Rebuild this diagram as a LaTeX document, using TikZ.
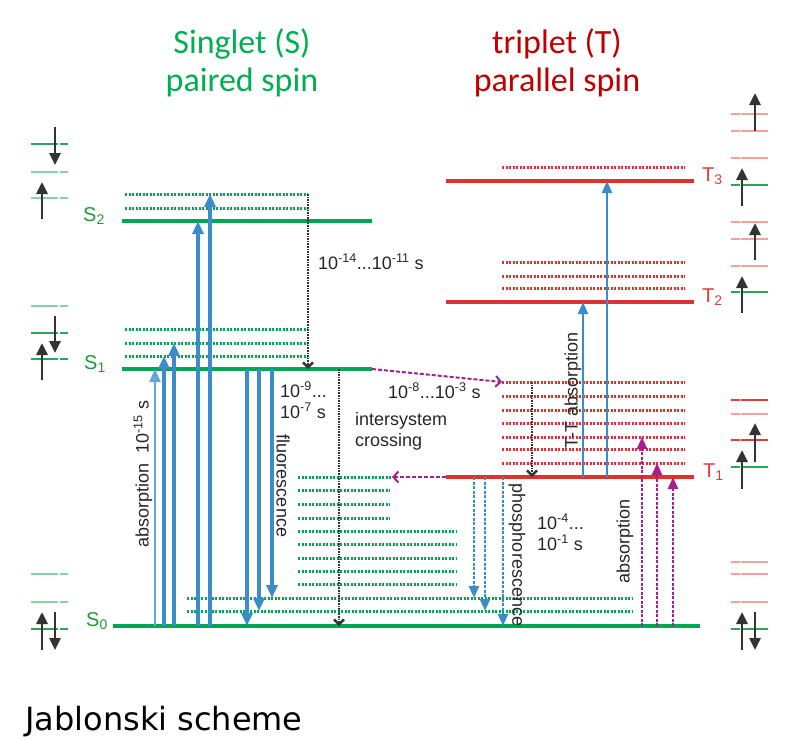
\documentclass[tikz,border=0pt]{standalone}
\usepackage{fontspec}
\setmainfont{Liberation Sans}
\newfontfamily\headfont{Carlito}
\newfontfamily\captionfont{DejaVu Sans}
\usetikzlibrary{arrows.meta, positioning, calc}

\definecolor{lvlgreen}{HTML}{00A651}
\definecolor{lvlred}{HTML}{E0302F}
\definecolor{txtgreen}{HTML}{1E9A3C}
\definecolor{txtred}{HTML}{E33B3B}
\definecolor{headgreen}{HTML}{00B050}
\definecolor{headred}{HTML}{C00000}
\definecolor{radblue}{HTML}{3B8DCA}
\definecolor{lightblue}{HTML}{62A6DA}
\definecolor{iscpurple}{HTML}{A3218E}
\definecolor{spingray}{HTML}{333333}
\definecolor{spingreen}{HTML}{2AA65C}
\definecolor{spinlightgreen}{HTML}{86D3A6}
\definecolor{spinred}{HTML}{E53935}
\definecolor{spinlightred}{HTML}{F4A09C}

\begin{document}
\begin{tikzpicture}[
    x=1pt, y=-1pt,
    % Level styles
    state line/.style={draw=#1, line width=4pt},
    vib/.style={draw=#1, line width=3pt, dash pattern=on 2.4pt off 1.1pt},
    spinline/.style={draw=#1, line width=1.1pt, dash pattern=on 27pt off 1.5pt on 9pt},
    % Transition styles
    radiative/.style={draw=radblue, line width=3.2pt, -{Triangle[length=13pt, width=11pt]}},
    ttabs/.style={draw=radblue, line width=2.4pt, -{Triangle[length=12pt, width=10pt]}},
    phos/.style={draw=radblue, line width=2.4pt, dash pattern=on 3pt off 1.5pt,
        -{Triangle[length=12pt, width=10pt]}},
    forbidden/.style={draw=iscpurple, line width=2.6pt, dash pattern=on 3pt off 1.5pt,
        -{Triangle[length=12pt, width=10pt]}},
    isc/.style={draw=iscpurple, line width=2pt, dash pattern=on 4pt off 2pt,
        -{Straight Barb[length=5pt, width=11pt]}},
    vibrelax/.style={draw=spingray, line width=2.4pt, dash pattern=on 1.6pt off 1pt,
        -{Straight Barb[length=5pt, width=10pt]}},
    spin/.style={draw=spingray, line width=2.8pt, -{Triangle[length=12pt, width=11pt]}},
    % Text styles
    head/.style={font=\headfont\fontsize{34}{40}\selectfont, text=#1, inner sep=0pt},
    lvl label/.style={font=\fontsize{20}{24}\selectfont, text=#1, inner sep=0pt},
    lbl/.style={font=\fontsize{18}{21}\selectfont, text=black!85, inner sep=0pt},
]
\useasboundingbox (0,0) rectangle (802,739);

% === Titles ===
\node[head=headgreen, anchor=base] (singlet)  at (242,53) {Singlet (S)};
\node[head=headgreen, anchor=base] (paired)   at (242,91) {paired spin};
\node[head=headred, anchor=base]   (triplet)  at (557,53) {triplet (T)};
\node[head=headred, anchor=base]   (parallel) at (557,91) {parallel spin};
\node[font=\captionfont\fontsize{32}{38}\selectfont, anchor=base west, inner sep=0pt]
    (scheme) at (25,730) {Jablonski scheme};

% === Vibrational levels ===
\foreach \y [count=\i] in {356,343,329}
    \draw[vib=lvlgreen] (125,\y) coordinate (s1v\i) -- (308,\y);
\foreach \y [count=\i] in {208,194}
    \draw[vib=lvlgreen] (125,\y) coordinate (s2v\i) -- (308,\y);
\coordinate (s2top) at (308,194);
\foreach \y [count=\i] in {611,598}
    \draw[vib=lvlgreen] (187,\y) coordinate (s0v\i) -- (632,\y);
\foreach \y in {584,571,558,544,531}
    \draw[vib=lvlgreen] (298,\y) -- (457,\y);
\foreach \y in {518,504,490}
    \draw[vib=lvlgreen] (298,\y) -- (390,\y);
\coordinate (s0hot) at (392,477);
\draw[vib=lvlgreen] (298,477) -- (s0hot);
\foreach \y [count=\i] in {463,449,437,423,410,396,382}
    \draw[vib=lvlred] (502,\y) coordinate (t1v\i) -- (685,\y);
\foreach \y in {288,276,262}
    \draw[vib=lvlred] (502,\y) -- (685,\y);
\draw[vib=lvlred] (502,167) -- (685,167);

% === Electronic states ===
\draw[state line=lvlgreen] (113,626) coordinate (S0) -- (700,626);
\draw[state line=lvlgreen] (122,369) coordinate (S1) -- (372,369) coordinate (S1e);
\draw[state line=lvlgreen] (122,221) coordinate (S2) -- (372,221);
\draw[state line=lvlred] (446,477) coordinate (T1) -- (694,477);
\draw[state line=lvlred] (446,302) coordinate (T2) -- (694,302);
\draw[state line=lvlred] (446,181) coordinate (T3) -- (694,181);

\node[lvl label=txtgreen, anchor=base east] (s0 label) at (108,626) {S\textsubscript{0}};
\node[lvl label=txtgreen, anchor=base east] (s1 label) at (106,369) {S\textsubscript{1}};
\node[lvl label=txtgreen, anchor=base east] (s2 label) at (105,221) {S\textsubscript{2}};
\node[lvl label=txtred, anchor=base west] (t1 label) at (703,477) {T\textsubscript{1}};
\node[lvl label=txtred, anchor=base west] (t2 label) at (702,302) {T\textsubscript{2}};
\node[lvl label=txtred, anchor=base west] (t3 label) at (702,181) {T\textsubscript{3}};

% === Absorption and fluorescence ===
\draw[radiative, draw=lightblue, line width=2.2pt] (155,0 |- S0) -- (155,0 |- S1);
\draw[radiative] (164,0 |- S0) -- (164,0 |- s1v1);
\draw[radiative] (174,0 |- S0) -- (174,0 |- s1v2);
\draw[radiative] (198,0 |- S0) -- (198,0 |- S2);
\draw[radiative] (210,0 |- S0) -- (210,0 |- s2v2);
\draw[radiative] (247,0 |- S1) -- (247,0 |- S0);
\draw[radiative] (259,0 |- S1) -- (259,0 |- s0v1);
\draw[radiative] (272,0 |- S1) -- (272,0 |- s0v2);

% === Non-radiative steps ===
\draw[vibrelax] (s2top) -- (s2top |- S1);
\draw[vibrelax] (339,0 |- S1) -- (339,0 |- S0);
\draw[vibrelax] (532,0 |- t1v7) -- (532,0 |- T1);
\draw[isc] (S1e) -- (t1v7);
\draw[isc] (T1) -- (s0hot);

% === Triplet transitions ===
\draw[ttabs] (583,0 |- T1) -- (583,0 |- T2);
\draw[ttabs] (607,0 |- T1) -- (607,0 |- T3);
\draw[phos] (474,0 |- T1) -- (474,0 |- s0v2);
\draw[phos] (485,0 |- T1) -- (485,0 |- s0v1);
\draw[phos] (503,0 |- T1) -- (503,0 |- S0);
\draw[forbidden] (642,0 |- S0) -- (642,0 |- t1v3);
\draw[forbidden] (657,0 |- S0) -- (657,0 |- t1v1);
\draw[forbidden] (673,0 |- S0) -- (673,0 |- T1);

% === Labels ===
\node[lbl, rotate=90] (abs label) at (143,474) {absorption\ \ 10\textsuperscript{-15} s};
\node[lbl, rotate=-90] (fl label) at (283,486) {fluorescence};
\node[lbl, align=left, anchor=base west] (fl time) at (280,418)
    {10\textsuperscript{-9}...\\10\textsuperscript{-7} s};
\node[lbl, anchor=base west] (ic time) at (318,269) {10\textsuperscript{-14}...10\textsuperscript{-11} s};
\node[lbl, anchor=base west] (isc time) at (388,398) {10\textsuperscript{-8}...10\textsuperscript{-3} s};
\node[lbl, align=left, anchor=base west] (isc label) at (355,446) {intersystem\\crossing};
\node[lbl, rotate=90] (tt label) at (573,390) {T-T absorption};
\node[lbl, rotate=-90] (ph label) at (517,555) {phosphorescence};
\node[lbl, align=left, anchor=base west] (ph time) at (537,550)
    {10\textsuperscript{-4}...\\10\textsuperscript{-1} s};
\node[lbl, rotate=90] (tabs label) at (625,541) {absorption};

% === Spin pictures, singlet side ===
\foreach \y/\c in {144/spingreen, 172/spinlightgreen, 198/spinlightgreen,
                   306/spinlightgreen, 333/spingreen, 359/spingreen,
                   574/spinlightgreen, 602/spinlightgreen, 629/spingreen}
    \draw[spinline=\c] (31,\y) -- (68,\y);
\draw[spin] (55,127) -- (55,165);
\draw[spin] (42,219) -- (42,182);
\draw[spin] (55,316) -- (55,353);
\draw[spin] (42,380) -- (42,343);
\draw[spin] (42,650) -- (42,612);
\draw[spin] (55,612) -- (55,650);

% === Spin pictures, triplet side ===
\foreach \y/\c in {114/spinlightred, 131/spinlightred, 158/spinlightred, 185/spingreen,
                   222/spinlightred, 239/spinlightred, 266/spinlightred, 292/spingreen,
                   400/spinred, 414/spinlightred, 440/spinred, 467/spingreen,
                   562/spinlightred, 574/spinlightred, 602/spinlightred, 629/spingreen}
    \draw[spinline=\c] (768,\y) -- (730,\y);
\draw[spin] (755,131) -- (755,93);
\draw[spin] (742,206) -- (742,168);
\draw[spin] (755,260) -- (755,223);
\draw[spin] (742,313) -- (742,276);
\draw[spin] (755,462) -- (755,423);
\draw[spin] (742,489) -- (742,450);
\draw[spin] (742,650) -- (742,612);
\draw[spin] (755,612) -- (755,650);

\end{tikzpicture}
\end{document}
